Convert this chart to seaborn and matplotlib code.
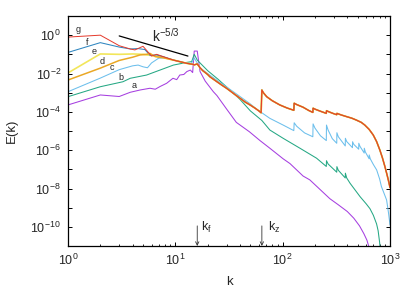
import numpy as np
import pandas as pd
import matplotlib
matplotlib.use("Agg")
import matplotlib.pyplot as plt
import matplotlib.ticker as mticker
import seaborn as sns

# ── spectra E(k): knots (log10 E) ──────────────────────────────
a_k = [1, 2, 3, 3.8, 4.7, 5.8, 6.5, 7.2, 8.3, 9.5, 10.3, 11, 12, 12.8, 13.8, 14.5,
       15, 16, 17, 19, 22.6, 24.4, 30, 37, 49, 61.5, 76, 101, 117, 155, 179,
       275, 330, 400, 460, 520, 570, 610, 640]
a_logE = [-3.64, -3.12, -3.20, -2.98, -2.86, -2.77, -2.82, -2.68, -2.51, -2.25, -2.32,
          -2.08, -2.05, -1.90, -1.82, -1.95, -0.83, -0.83, -1.90, -2.40, -2.95, -3.15,
          -3.85, -4.55, -5.04, -5.50, -5.90, -6.45, -6.70, -7.35, -7.55, -8.53, -8.85,
          -9.20, -9.55, -9.95, -10.35, -10.70, -11.10]

b_k = [1, 2, 3.25, 3.8, 5.4, 7.2, 9.6, 12.8, 14.2, 15, 16, 17, 20, 25, 30, 35, 40,
       50, 64, 76, 101, 145, 207, 255, 256, 265, 319, 320, 330, 383, 384, 395, 425,
       527, 600, 650, 700, 750, 775, 800, 815]
b_logE = [-3.21, -2.69, -2.43, -2.25, -2.08, -1.82, -1.56, -1.42, -1.38, -1.00, -1.30,
          -1.45, -1.85, -2.30, -2.70, -3.05, -3.35, -3.95, -4.45, -4.95, -5.38, -5.90,
          -6.42, -6.85, -6.55, -6.72, -7.15, -6.86, -7.05, -7.45, -7.20, -7.45, -7.73,
          -8.43, -8.80, -9.05, -9.40, -9.85, -10.20, -10.80, -11.30]

c_k = [1, 2, 3, 4, 4.5, 5, 5.5, 6, 7, 8, 9, 10, 12, 14, 15, 16, 17, 20, 25, 30, 40,
       50, 60, 64, 76, 101, 127, 128, 135, 160, 191, 192, 200, 225, 255, 256, 265,
       290, 319, 320, 330, 383, 384, 395, 447, 448, 460, 511, 512, 525, 575, 576,
       590, 639, 640, 655, 700, 751, 800, 832, 880, 930, 970, 1000]
c_logE = [-2.95, -2.24, -1.80, -1.60, -1.56, -1.65, -1.70, -1.45, -1.20, -1.18, -1.25,
          -1.32, -1.42, -1.50, -1.20, -1.45, -1.70, -2.00, -2.40, -2.70, -3.20, -3.59,
          -3.95, -4.05, -4.34, -4.69, -4.98, -4.57, -4.75, -5.10, -5.30, -4.63, -4.85,
          -5.25, -5.50, -4.69, -4.95, -5.40, -5.64, -5.09, -5.30, -5.78, -5.38, -5.55,
          -5.87, -5.56, -5.70, -5.95, -5.64, -5.80, -6.15, -5.90, -6.10, -6.45, -6.25,
          -6.45, -6.75, -7.03, -7.50, -7.90, -8.25, -8.60, -9.30, -9.90]

d_k = [1, 2, 3, 4, 4.7, 5.4, 5.8, 6.5, 7.7, 9.6]
d_logE = [-2.34, -1.72, -1.32, -1.15, -1.03, -1.00, -0.95, -1.12, -1.18, -1.30]

e_k = [1, 2, 3, 4, 5, 6.2, 7.7, 9.6]
e_logE = [-1.97, -0.98, -1.00, -0.98, -1.00, -1.07, -1.15, -1.30]

f_k = [1, 2, 3, 3.8, 4.5, 5.2, 5.8, 6.7, 7.7, 9.6]
f_logE = [-0.90, -0.39, -0.62, -0.72, -0.70, -0.75, -1.05, -1.03, -1.12, -1.30]

g_k = [1, 2, 3, 3.8, 4.2, 5, 6, 6.7, 7.7, 9.6]
g_logE = [-0.10, 0.00, -0.55, -0.72, -0.77, -0.58, -1.09, -1.00, -1.12, -1.30]

# shared part of d, e, f, g (they lie on top of each other past k~10)
top_k = [12.8, 14.5, 15, 16, 17, 18, 20, 21, 24, 27, 30, 35, 40, 45, 50, 55, 60, 63,
         64, 66, 71, 80, 94, 110, 127,
         128, 135, 155, 175, 191,
         192, 200, 225, 255,
         256, 270, 300, 319,
         320, 350, 394, 440, 486, 540, 582, 640, 698, 750, 804, 850, 897, 940, 964, 1000]
top_logE = [-1.47, -1.52, -1.55, -1.50, -1.70, -1.85, -2.05, -2.17, -2.40, -2.60, -2.77,
            -3.05, -3.29, -3.50, -3.65, -3.80, -3.95, -4.05,
            -2.86, -3.00, -3.21, -3.42, -3.64, -3.80, -3.92,
            -3.55, -3.62, -3.76, -3.93, -4.03,
            -3.81, -3.86, -3.97, -4.08,
            -3.94, -4.00, -4.10, -4.15,
            -4.08, -4.16, -4.25, -4.33, -4.43, -4.55, -4.69, -4.92, -5.21, -5.55, -5.99,
            -6.40, -6.86, -7.30, -7.55, -7.95]

ref_k = [3.0, 13.1]          # k^-5/3 guide line
ref_logE = [-0.04, -1.09]

k_f = 16
k_z = 64

ytick_exp = [1, 0, -1, -2, -3, -4, -5, -6, -7, -8, -9, -10, -11]
xtick_exp = [0, 1, 2, 3]

curves = {
    "a": (a_k, a_logE, "#a63fe0", 0.75),
    "b": (b_k, b_logE, "#25a884", 0.75),
    "c": (c_k, c_logE, "#6cbfec", 0.75),
    "e": (e_k + top_k, e_logE + top_logE, "#f2e65a", 1.2),
    "f": (f_k + top_k, f_logE + top_logE, "#2f86c0", 0.75),
    "d": (d_k + top_k, d_logE + top_logE, "#eaa825", 1.1),
    "g": (g_k + top_k, g_logE + top_logE, "#e5392b", 0.7),
}
label_pos = {"g": (1.25, 0.31), "f": (1.52, -0.37), "e": (1.76, -0.86),
             "d": (2.06, -1.35), "c": (2.55, -1.68), "b": (3.1, -2.20),
             "a": (4.15, -2.65)}

sns.set_style("ticks")
plt.rcParams["font.family"] = ["Liberation Sans", "DejaVu Sans"]
plt.rcParams["mathtext.fontset"] = "custom"
plt.rcParams["mathtext.rm"] = "Liberation Sans"
plt.rcParams["mathtext.it"] = "Liberation Sans"
plt.rcParams["mathtext.default"] = "regular"

fig = plt.figure(figsize=(4.15, 2.91), dpi=100)
ax = fig.add_axes([68 / 415, 1 - 246 / 291, 322 / 415, 230 / 291])

for name, (ks, les, col, lw) in curves.items():
    df = pd.DataFrame({"k": ks, "E": 10.0 ** np.array(les)})
    sns.lineplot(data=df, x="k", y="E", ax=ax, color=col, lw=lw,
                 estimator=None, sort=False)

ref = pd.DataFrame({"k": ref_k, "E": 10.0 ** np.array(ref_logE)})
sns.lineplot(data=ref, x="k", y="E", ax=ax, color="black", lw=0.9,
             estimator=None, sort=False)

ax.set_xscale("log")
ax.set_yscale("log")
ax.set_xlim(1, 1000)
ax.set_ylim(1e-11, 1e1)

ax.set_yticks([10.0 ** e for e in ytick_exp])
ax.set_yticklabels([f"$10^{{{e}}}$" if e % 2 == 0 and e <= 0 else "" for e in ytick_exp])
ax.yaxis.set_minor_locator(mticker.NullLocator())
ax.set_xticks([10.0 ** e for e in xtick_exp])
ax.set_xticklabels([f"$10^{{{e}}}$" for e in xtick_exp])
ax.xaxis.set_minor_locator(mticker.LogLocator(base=10, subs=np.arange(2, 10)))
ax.xaxis.set_minor_formatter(mticker.NullFormatter())

ax.tick_params(which="both", direction="in", top=True, right=True,
               labelsize=9, color="black")
ax.tick_params(which="major", length=3.2, width=0.7, pad=5)
ax.tick_params(which="minor", length=1.7, width=0.6)
for s in ax.spines.values():
    s.set_linewidth(0.9)
    s.set_color("black")

ax.set_xlabel("k", fontsize=9.5)
ax.set_ylabel("E(k)", fontsize=9.5)
ax.xaxis.set_label_coords(0.5, -0.13)
ax.yaxis.set_label_coords(-0.155, 0.5)

for name, (kx, ly) in label_pos.items():
    ax.text(kx, 10.0 ** ly, name, fontsize=6.5, ha="center", va="center")

ax.text(6.05, 10.0 ** -0.33, "$k^{-5/3}$", fontsize=10, ha="left", va="baseline")

for kk, lab, kx in [(k_f, "$k_f$", 17.4), (k_z, "$k_z$", 73.5)]:
    ax.annotate("", xy=(kk, 1e-11), xytext=(kk, 10.0 ** -9.95),
                arrowprops=dict(arrowstyle="->", lw=0.6, color="#333333",
                                shrinkA=0, shrinkB=0,
                                mutation_scale=6))
    ax.text(kx, 10.0 ** -10.22, lab, fontsize=9, ha="left", va="baseline")

fig.savefig("out.png", dpi=100)
